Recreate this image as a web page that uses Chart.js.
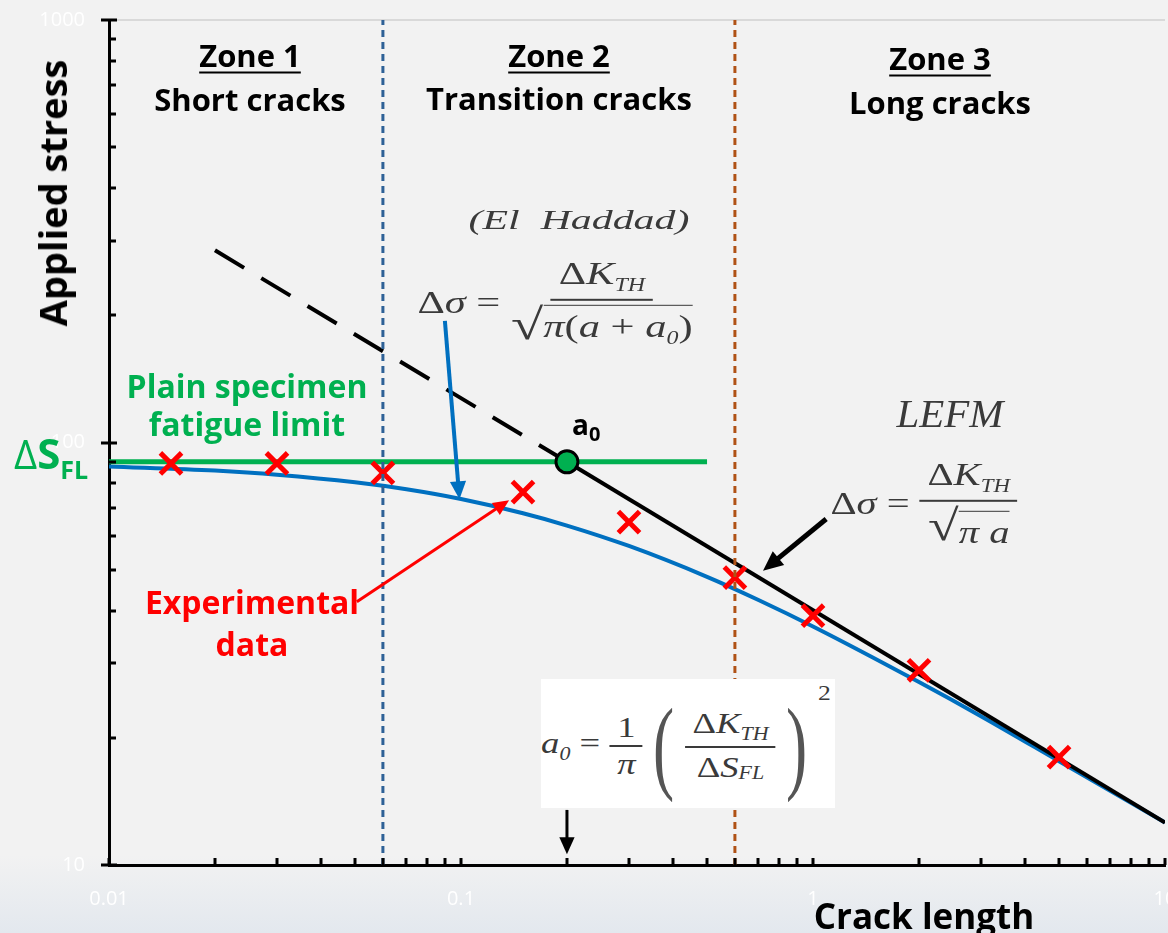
<!DOCTYPE html>
<html>
<head>
<meta charset="utf-8">
<script src="https://cdn.jsdelivr.net/npm/chart.js@4.4.1/dist/chart.umd.min.js"></script>
<style>
  html, body { margin: 0; padding: 0; }
  body {
    width: 1168px; height: 933px; overflow: hidden;
    background: linear-gradient(to bottom, #f2f2f2 0px, #f2f2f2 855px, #e3e8ee 933px);
    font-family: "Open Sans", Lato, "Noto Sans", sans-serif;
  }
  #wrap { position: relative; width: 1168px; height: 933px; overflow: hidden; }
  #chart { position: absolute; left: 0; top: 0; }
  .lbl { position: absolute; transform: translate(-50%, -50%); white-space: nowrap; line-height: 1; font-weight: 700; }
  .zone { font-size: 31px; color: #000; }
  .zone u { text-decoration-thickness: 2px; text-underline-offset: 5px; }
  .green { color: #00b050; }
  .red { color: #ff0000; }
  .fx {
    position: absolute;
    font-family: "Liberation Serif", "Times New Roman", serif; color: #3a3a3a;
    display: flex; align-items: center; white-space: nowrap; line-height: 1; font-size: 32px;
  }
  .fx i { font-style: italic; }
  .frac { display: inline-flex; flex-direction: column; align-items: center; margin-left: 8px; }
  .num { border-bottom: 2px solid #3a3a3a; padding: 0 6px 5px; }
  .den { padding-top: 2px; display: flex; align-items: flex-end; }
  .rad { border-top: 1.5px solid #3a3a3a; padding-top: 4px; }
  .sq { font-size: 44px; line-height: 1; }
  .fx sub { font-size: 18px; font-style: italic; }
  .box { position: absolute; left: 541px; top: 679px; width: 294px; height: 129px; background: #fff; }
  .paren { font-size: 104px; display: inline-block; transform: scaleX(0.5); font-weight: 300; color: #555; }
</style>
</head>
<body>
<div id="wrap">
  <canvas id="chart" width="1200" height="933"></canvas>

  <div class="lbl zone" style="left:250px; top:55px;"><u>Zone 1</u></div>
  <div class="lbl zone" style="left:250px; top:99px;">Short cracks</div>
  <div class="lbl zone" style="left:559px; top:55px;"><u>Zone 2</u></div>
  <div class="lbl zone" style="left:559px; top:98px;">Transition cracks</div>
  <div class="lbl zone" style="left:940px; top:58px;"><u>Zone 3</u></div>
  <div class="lbl zone" style="left:940px; top:102px;">Long cracks</div>

  <div class="lbl" style="left:52px; top:193px; font-size:38px; transform:translate(-50%,-50%) rotate(-90deg);">Applied stress</div>
  <div class="lbl" style="left:924px; top:915px; font-size:35px;">Crack length</div>

  <div class="lbl green" style="left:247px; top:386px; font-size:32px;">Plain specimen</div>
  <div class="lbl green" style="left:247px; top:424px; font-size:32px;">fatigue limit</div>
  <div class="lbl green" style="left:14px; top:432px; transform:none;"><span style="font-size:40px; font-weight:400;">Δ</span><span style="font-size:42px;">S</span><span style="font-size:25px; position:relative; top:10px;">FL</span></div>

  <div class="lbl" style="left:572px; top:410px; transform:none; font-size:28px;">a<span style="font-size:20px; position:relative; top:6px;">0</span></div>

  <div class="lbl red" style="left:252px; top:602px; font-size:32px;">Experimental</div>
  <div class="lbl red" style="left:252px; top:644px; font-size:32px;">data</div>

  <!-- El Haddad -->
  <div class="fx" style="left:579px; top:220px; font-size:27px; transform:translate(-50%,-50%) scaleX(1.55);"><i>(El&nbsp;&nbsp;Haddad)</i></div>
  <div class="fx" style="left:555px; top:302px; transform:translate(-50%,-50%) scaleX(1.33);">
    <span>Δ<i>σ</i> =</span>
    <span class="frac">
      <span class="num">Δ<i>K</i><sub>TH</sub></span>
      <span class="den"><span class="sq">√</span><span class="rad"><i>π</i>(<i>a</i> + <i>a</i><sub>0</sub>)</span></span>
    </span>
  </div>

  <!-- LEFM -->
  <div class="fx" style="left:950px; top:413px; font-size:39px; transform:translate(-50%,-50%) scaleX(1.05);"><i>LEFM</i></div>
  <div class="fx" style="left:924px; top:503px; transform:translate(-50%,-50%) scaleX(1.27);">
    <span>Δ<i>σ</i> =</span>
    <span class="frac">
      <span class="num">Δ<i>K</i><sub>TH</sub></span>
      <span class="den"><span class="sq">√</span><span class="rad"><i>π a</i></span></span>
    </span>
  </div>

  <!-- a0 definition -->
  <div class="box"></div>
  <div class="fx" style="left:686px; top:745px; font-size:30px; transform:translate(-50%,-50%) scaleX(1.22);">
    <span><i>a</i><sub>0</sub> =</span>
    <span class="frac"><span class="num" style="padding-bottom:3px;">1</span><span class="den"><i>π</i></span></span>
    <span class="paren">(</span>
    <span class="frac" style="margin-left:0;">
      <span class="num" style="padding-bottom:3px;">Δ<i>K</i><sub>TH</sub></span>
      <span class="den" style="padding-top:4px;">Δ<i>S</i><sub>FL</sub></span>
    </span>
    <span class="paren">)</span>
    <span style="font-size:21px; position:relative; top:-52px;">2</span>
  </div>
</div>

<script>
// ---- data (crack length a, applied stress) ----
const xTickValues = [0.01,0.02,0.03,0.04,0.05,0.06,0.07,0.08,0.09,0.1,0.2,0.3,0.4,0.5,0.6,0.7,0.8,0.9,1,2,3,4,5,6,7,8,9,10];
const xTickLabels = {0.01: "0.01", 0.1: "0.1", 1: "1", 10: "10"};
const yTickValues = [10,20,30,40,50,60,70,80,90,100,200,300,400,500,600,700,800,900,1000];
const yTickLabels = {10: "10", 100: "100", 1000: "1000"};

// experimental points (red crosses)
const expA = [0.015, 0.03, 0.06, 0.15, 0.3, 0.6, 1, 2, 5];
const expS = [89.2, 89.2, 84.7, 76.3, 64.8, 47.9, 38.9, 28.9, 18.0];

// El Haddad curve (blue)
const haddadA = [0.01, 0.02, 0.03, 0.05, 0.07, 0.1, 0.15, 0.2, 0.3, 0.5, 0.7, 1, 2, 3, 5, 10];
const haddadS = [87.8, 85.8, 83.9, 80.5, 77.5, 73.5, 68.0, 63.6, 56.9, 48.1, 42.4, 36.7, 27.1, 22.5, 17.6, 12.6];

// plain specimen fatigue limit (green)
const fatigueA = [0.01, 0.5];
const fatigueS = [90, 90];

// LEFM line: dashed part and solid part
const lefmDashA = [0.02, 0.2];
const lefmDashS = [285, 90];
const lefmA = [0.2, 10];
const lefmS = [90, 12.6];

// a0 point
const a0A = [0.2];
const a0S = [90];

// zone boundaries
const zoneBounds = [0.06, 0.6];

// arrows (data coordinates: [a, stress])
const arrows = [
  { from: [0.090, 194], to: [0.099, 73.4], color: '#0070c0', width: 4, head: 18 },
  { from: [0.0506, 42.0], to: [0.137, 73.0], color: '#ff0000', width: 3, head: 16 },
  { from: [1.09, 65.9], to: [0.721, 49.7], color: '#000000', width: 5, head: 20 },
  { from: [0.2, 13.5], to: [0.2, 10.6], color: '#000000', width: 3, head: 17 }
];

const pts = (xs, ys) => xs.map((x, i) => ({ x: x, y: ys[i] }));

function drawArrow(ctx, x1, y1, x2, y2, color, width, head) {
  const ang = Math.atan2(y2 - y1, x2 - x1);
  const c = Math.cos(ang), s = Math.sin(ang);
  ctx.save();
  ctx.strokeStyle = color;
  ctx.fillStyle = color;
  ctx.lineWidth = width;
  ctx.beginPath();
  ctx.moveTo(x1, y1);
  ctx.lineTo(x2 - head * 0.8 * c, y2 - head * 0.8 * s);
  ctx.stroke();
  const hw = head * 0.45;
  ctx.beginPath();
  ctx.moveTo(x2, y2);
  ctx.lineTo(x2 - head * c + hw * s, y2 - head * s - hw * c);
  ctx.lineTo(x2 - head * c - hw * s, y2 - head * s + hw * c);
  ctx.closePath();
  ctx.fill();
  ctx.restore();
}

// inner tick marks + arrows
const extras = {
  id: 'extras',
  afterDatasetsDraw(chart) {
    const { ctx, scales: { x, y } } = chart;
    arrows.forEach(a => {
      drawArrow(ctx, x.getPixelForValue(a.from[0]), y.getPixelForValue(a.from[1]),
        x.getPixelForValue(a.to[0]), y.getPixelForValue(a.to[1]), a.color, a.width, a.head);
    });
  },
  afterDraw(chart) {
    const { ctx, chartArea, scales: { x, y } } = chart;
    ctx.save();
    ctx.strokeStyle = '#000';
    ctx.lineWidth = 3;
    ctx.beginPath();
    y.ticks.forEach(t => {
      const py = Math.round(y.getPixelForValue(t.value));
      if (yTickLabels[t.value]) {
        ctx.moveTo(chartArea.left - 8, py); ctx.lineTo(chartArea.left + 8, py);
      } else {
        ctx.moveTo(chartArea.left, py); ctx.lineTo(chartArea.left + 7, py);
      }
    });
    x.ticks.forEach(t => {
      const px = Math.round(x.getPixelForValue(t.value));
      ctx.moveTo(px, chartArea.bottom); ctx.lineTo(px, chartArea.bottom - 7);
    });
    ctx.stroke();
    ctx.restore();
  }
};

new Chart(document.getElementById('chart'), {
  type: 'line',
  data: {
    datasets: [
      { data: pts([zoneBounds[0], zoneBounds[0]], [10, 1000]), borderColor: '#2e6196', borderWidth: 3,
        borderDash: [7, 5], pointRadius: 0, order: 0 },
      { data: pts([zoneBounds[1], zoneBounds[1]], [10, 1000]), borderColor: '#b05216', borderWidth: 3,
        borderDash: [7, 5], pointRadius: 0, order: 0 },
      { data: pts(a0A, a0S), showLine: false, pointRadius: 11, pointBackgroundColor: '#00b050',
        pointBorderColor: '#000', pointBorderWidth: 3, order: 1 },
      { data: pts(expA, expS), showLine: false, pointStyle: 'crossRot', pointRadius: 15,
        pointBorderColor: '#ff0000', pointBorderWidth: 5, order: 2 },
      { data: pts(lefmA, lefmS), borderColor: '#000', borderWidth: 4, pointRadius: 0, order: 3 },
      { data: pts(lefmDashA, lefmDashS), borderColor: '#000', borderWidth: 4, borderDash: [34, 20],
        pointRadius: 0, order: 3 },
      { data: pts(fatigueA, fatigueS), borderColor: '#00b050', borderWidth: 5, pointRadius: 0, order: 4 },
      { data: pts(haddadA, haddadS), borderColor: '#0070c0', borderWidth: 4, pointRadius: 0,
        cubicInterpolationMode: 'monotone', order: 5 }
    ]
  },
  options: {
    responsive: false,
    animation: false,
    events: [],
    layout: { padding: { top: 15, right: 35, left: 0, bottom: 0 } },
    plugins: { legend: { display: false }, tooltip: { enabled: false } },
    scales: {
      x: {
        type: 'logarithmic', min: 0.01, max: 10,
        border: { color: '#000', width: 3 },
        grid: { display: false, drawTicks: false },
        afterBuildTicks: s => { s.ticks = xTickValues.map(v => ({ value: v })); },
        afterFit: s => { s.height = 68; s.paddingLeft = 0; s.paddingRight = 0; },
        ticks: {
          autoSkip: false, maxRotation: 0, padding: 22, color: '#ffffff',
          font: { family: 'Open Sans', size: 20 },
          callback: v => xTickLabels[v] || ''
        }
      },
      y: {
        type: 'logarithmic', min: 10, max: 1000,
        border: { color: '#000', width: 3 },
        grid: { drawTicks: false, lineWidth: 2,
          color: c => (c.tick && c.tick.value === 1000) ? '#d9d9d9' : 'rgba(0,0,0,0)' },
        afterBuildTicks: s => { s.ticks = yTickValues.map(v => ({ value: v })); },
        afterFit: s => { s.width = 109; s.paddingTop = 0; s.paddingBottom = 0; },
        ticks: {
          autoSkip: false, padding: 24, color: '#ffffff',
          font: { family: 'Open Sans', size: 20 },
          callback: v => yTickLabels[v] || ''
        }
      }
    }
  },
  plugins: [extras]
});
</script>
</body>
</html>
